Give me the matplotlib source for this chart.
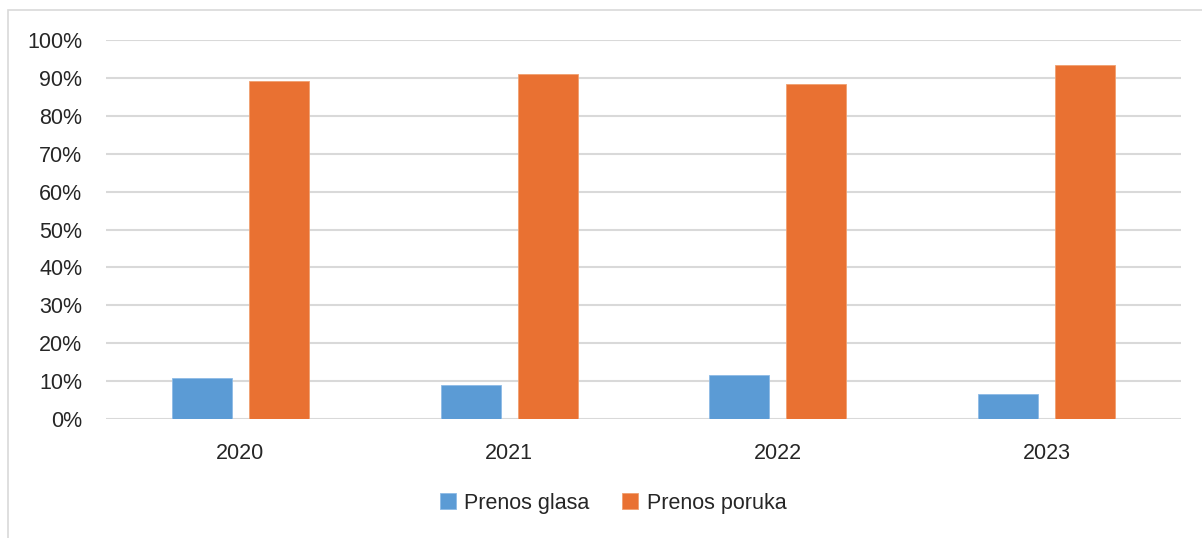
import numpy as np
import matplotlib
matplotlib.use("Agg")
import matplotlib.pyplot as plt
from matplotlib.patches import Rectangle
from matplotlib.ticker import PercentFormatter

# ── Data ──────────────────────────────────────────────────────
years  = ["2020", "2021", "2022", "2023"]
glas   = [0.109, 0.090, 0.116, 0.067]
poruka = [0.891, 0.910, 0.884, 0.933]
series_names = ["Prenos glasa", "Prenos poruka"]

# ── Style ─────────────────────────────────────────────────────
plt.rcParams["font.family"] = ["Liberation Sans", "DejaVu Sans"]
BLUE   = "#5B9BD5"
ORANGE = "#E97132"
GRID   = "#D9D9D9"
TEXT   = "#262626"

W, H = 1202, 538
fig = plt.figure(figsize=(W / 100, H / 100), dpi=100)
ax = fig.add_axes([106 / W, 1 - 419 / H, (1181 - 106) / W, (419 - 40) / H])

# outer chart frame
fig.patches.append(Rectangle((8 / W, -0.05), 1.1, 1 - 10 / H + 0.05,
                             transform=fig.transFigure, fill=False,
                             edgecolor=GRID, linewidth=1.2))

x = np.arange(len(years))
bw, off = 0.223, 0.143
ax.bar(x - off, glas, bw, color=BLUE, edgecolor="#8DBBE6", linewidth=0.6,
       label=series_names[0], zorder=3)
ax.bar(x + off, poruka, bw, color=ORANGE, edgecolor="#F0A070", linewidth=0.6,
       label=series_names[1], zorder=3)

ax.set_xlim(-0.5, 3.5)
ax.set_ylim(0, 1.0)
ax.set_yticks(np.arange(0, 1.01, 0.1))
ax.yaxis.set_major_formatter(PercentFormatter(1.0, decimals=0))
ax.set_xticks(x)
ax.set_xticklabels(years)
ax.yaxis.grid(True, color=GRID, linewidth=1.5, zorder=0)
ax.set_axisbelow(True)
for s in ax.spines.values():
    s.set_visible(False)
ax.tick_params(axis="both", length=0, labelsize=15.5, colors=TEXT)
ax.tick_params(axis="y", pad=17)
ax.tick_params(axis="x", pad=17)

handles, labels = ax.get_legend_handles_labels()
fig.legend(handles, labels, loc="center", bbox_to_anchor=(613 / W, 1 - 503 / H),
           ncol=2, frameon=False, fontsize=15.5, handlelength=0.75,
           handleheight=0.75, handletextpad=0.4, columnspacing=1.5,
           labelcolor=TEXT)

fig.savefig("out.png", dpi=100)
